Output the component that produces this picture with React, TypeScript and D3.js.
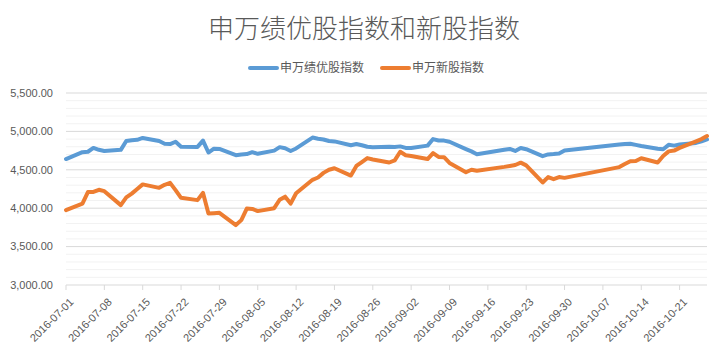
import React, { useEffect, useRef } from 'react';
import * as d3 from 'd3';

const title = '申万绩优股指数和新股指数';
const seriesNames = ['申万绩优股指数', '申万新股指数'];
const colors = ['#5B9BD5', '#ED7D31'];

// trading days
const dates = [
  '2016-07-01', '2016-07-04', '2016-07-05', '2016-07-06', '2016-07-07', '2016-07-08',
  '2016-07-11', '2016-07-12', '2016-07-13', '2016-07-14', '2016-07-15',
  '2016-07-18', '2016-07-19', '2016-07-20', '2016-07-21', '2016-07-22',
  '2016-07-25', '2016-07-26', '2016-07-27', '2016-07-28', '2016-07-29',
  '2016-08-01', '2016-08-02', '2016-08-03', '2016-08-04', '2016-08-05',
  '2016-08-08', '2016-08-09', '2016-08-10', '2016-08-11', '2016-08-12',
  '2016-08-15', '2016-08-16', '2016-08-17', '2016-08-18', '2016-08-19',
  '2016-08-22', '2016-08-23', '2016-08-24', '2016-08-25', '2016-08-26',
  '2016-08-29', '2016-08-30', '2016-08-31',
  '2016-09-01', '2016-09-02', '2016-09-05', '2016-09-06', '2016-09-07', '2016-09-08', '2016-09-09',
  '2016-09-12', '2016-09-13', '2016-09-14',
  '2016-09-19', '2016-09-20', '2016-09-21', '2016-09-22', '2016-09-23',
  '2016-09-26', '2016-09-27', '2016-09-28', '2016-09-29', '2016-09-30',
  '2016-10-10', '2016-10-11', '2016-10-12', '2016-10-13', '2016-10-14',
  '2016-10-17', '2016-10-18', '2016-10-19', '2016-10-20', '2016-10-21',
  '2016-10-24', '2016-10-25', '2016-10-26',
];

const youzhi = [
  4640, 4730, 4735, 4785, 4760, 4745, 4760, 4875, 4885, 4890, 4915,
  4875, 4840, 4835, 4865, 4800, 4798, 4880, 4725, 4775, 4772,
  4690, 4700, 4705, 4730, 4708, 4750, 4795, 4780, 4745, 4778,
  4920, 4905, 4895, 4875, 4870, 4820, 4835, 4820, 4800, 4795,
  4800, 4798, 4805,
  4785, 4783, 4815, 4900, 4882, 4880, 4865, 4770, 4740, 4703,
  4760, 4772, 4745, 4783, 4768, 4678, 4700, 4705, 4712, 4752,
  4828, 4835, 4840, 4825, 4810, 4775, 4768, 4825, 4815, 4830,
  4850, 4870, 4895,
];

const xingu = [
  3975, 4060, 4210, 4212, 4240, 4222, 4040, 4140, 4190, 4250, 4310,
  4265, 4305, 4330, 4235, 4135, 4105, 4200, 3930, 3935, 3940,
  3780, 3845, 3995, 3990, 3962, 4000, 4110, 4150, 4060, 4195,
  4370, 4400, 4460, 4500, 4520, 4425, 4550, 4600, 4652, 4635,
  4595, 4622, 4735,
  4690, 4680, 4640, 4718, 4668, 4665, 4590, 4468, 4500, 4487,
  4538, 4550, 4562, 4593, 4558, 4335, 4405, 4378, 4405, 4395,
  4535, 4575, 4612, 4615, 4650, 4595, 4680, 4740, 4750, 4785,
  4870, 4900, 4940,
];

const yTicks = [3000, 3500, 4000, 4500, 5000, 5500];

const App = () => {
  const ref = useRef<SVGSVGElement>(null);

  useEffect(() => {
    const svg = d3.select(ref.current);
    svg.selectAll('*').remove();

    const width = 728;
    const height = 352;
    const m = { left: 66, right: 21, top: 93, bottom: 67 };
    const parse = d3.timeParse('%Y-%m-%d');
    const xs = dates.map((d) => parse(d) as Date);

    const x = d3
      .scaleTime()
      .domain([xs[0], xs[xs.length - 1]])
      .range([m.left, width - m.right]);
    const y = d3
      .scaleLinear()
      .domain([3000, 5500])
      .range([height - m.bottom, m.top]);

    const numFont = '"Liberation Sans", Arial, sans-serif';
    const cjkFont = '"Noto Sans CJK SC", "Noto Sans", sans-serif';

    svg.append('rect').attr('width', width).attr('height', height).attr('fill', '#fff');

    // minor gridlines
    svg
      .append('g')
      .selectAll('line')
      .data(d3.range(3100, 5500, 100).filter((v) => v % 500 !== 0))
      .join('line')
      .attr('x1', m.left)
      .attr('x2', width - m.right)
      .attr('y1', (d) => y(d))
      .attr('y2', (d) => y(d))
      .attr('stroke', '#F2F2F2')
      .attr('stroke-width', 1);

    // major gridlines
    svg
      .append('g')
      .selectAll('line')
      .data(yTicks.slice(1))
      .join('line')
      .attr('x1', m.left)
      .attr('x2', width - m.right)
      .attr('y1', (d) => y(d))
      .attr('y2', (d) => y(d))
      .attr('stroke', '#D9D9D9')
      .attr('stroke-width', 1);

    // y labels
    svg
      .append('g')
      .selectAll('text')
      .data(yTicks)
      .join('text')
      .attr('x', 53)
      .attr('y', (d) => y(d))
      .attr('dy', '0.35em')
      .attr('text-anchor', 'end')
      .attr('font-family', numFont)
      .attr('font-size', 11)
      .attr('fill', '#595959')
      .text((d) => d3.format(',.2f')(d));

    // x axis
    const xTicks = x.ticks(d3.timeFriday);
    const xa = svg.append('g');
    xa.append('line')
      .attr('x1', m.left)
      .attr('x2', width - m.right)
      .attr('y1', y(3000))
      .attr('y2', y(3000))
      .attr('stroke', '#D9D9D9');
    xa.selectAll('line.tick')
      .data(xTicks)
      .join('line')
      .attr('class', 'tick')
      .attr('x1', (d) => x(d))
      .attr('x2', (d) => x(d))
      .attr('y1', y(3000))
      .attr('y2', y(3000) + 5)
      .attr('stroke', '#D9D9D9');
    xa.selectAll('text')
      .data(xTicks)
      .join('text')
      .attr('transform', (d) => `translate(${x(d) + 5.5},${y(3000) + 15}) rotate(-45)`)
      .attr('text-anchor', 'end')
      .attr('dy', '0.35em')
      .attr('font-family', numFont)
      .attr('font-size', 11)
      .attr('fill', '#595959')
      .text((d) => d3.timeFormat('%Y-%m-%d')(d));

    // lines
    const line = d3
      .line<number>()
      .x((_, i) => x(xs[i]))
      .y((d) => y(d));

    [youzhi, xingu].forEach((vals, k) => {
      svg
        .append('path')
        .datum(vals)
        .attr('d', line)
        .attr('fill', 'none')
        .attr('stroke', colors[k])
        .attr('stroke-width', 4)
        .attr('stroke-linejoin', 'round')
        .attr('stroke-linecap', 'round');
    });

    // title
    svg
      .append('text')
      .attr('x', 364)
      .attr('y', 38)
      .attr('text-anchor', 'middle')
      .attr('font-family', cjkFont)
      .attr('font-size', 26)
      .attr('font-weight', 300)
      .attr('fill', '#595959')
      .text(title);

    // legend
    const legendX = [250, 382];
    seriesNames.forEach((name, k) => {
      const g = svg.append('g').attr('transform', `translate(${legendX[k]},68)`);
      g.append('line')
        .attr('x1', 0)
        .attr('x2', 27)
        .attr('stroke', colors[k])
        .attr('stroke-width', 4)
        .attr('stroke-linecap', 'round');
      g.append('text')
        .attr('x', 30)
        .attr('dy', '0.35em')
        .attr('font-family', cjkFont)
        .attr('font-size', 12)
        .attr('fill', '#595959')
        .text(name);
    });
  }, []);

  return (
    <div style={{ position: 'fixed', left: 0, top: 0 }}>
      <svg ref={ref} width={728} height={352} style={{ display: 'block' }} />
    </div>
  );
};

export default App;
